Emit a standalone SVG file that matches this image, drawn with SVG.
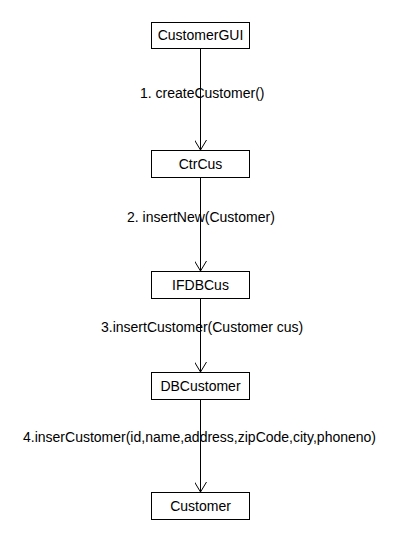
<svg xmlns="http://www.w3.org/2000/svg" width="410" height="540" viewBox="0 0 410 540">
<style>
.box{fill:#fff;stroke:#000;stroke-width:1}
.t{font-family:"Liberation Sans",Arial,sans-serif;font-size:14px;fill:#000}
.c{text-anchor:middle}
.ln{stroke:#000;stroke-width:1;fill:none}
</style>
<defs>
<marker id="open" markerWidth="16" markerHeight="12" refX="10" refY="6" orient="auto" markerUnits="userSpaceOnUse">
<path d="M0,0 L10,6 L0,12" fill="none" stroke="#000" stroke-width="1"/>
</marker>
</defs>
<rect width="410" height="540" fill="#fff"/>
<g id="connectors">
<line class="ln" x1="200.5" y1="48" x2="200.5" y2="150" marker-end="url(#open)"/>
<line class="ln" x1="200.5" y1="178" x2="200.5" y2="271" marker-end="url(#open)"/>
<line class="ln" x1="200.5" y1="299" x2="200.5" y2="372" marker-end="url(#open)"/>
<line class="ln" x1="200.5" y1="399" x2="200.5" y2="492" marker-end="url(#open)"/>
<text class="t" x="140" y="98">1. createCustomer()</text>
<text class="t" x="127" y="222">2. insertNew(Customer)</text>
<text class="t" x="101" y="332">3.insertCustomer(Customer cus)</text>
<text class="t" x="23" y="442">4.inserCustomer(id,name,address,zipCode,city,phoneno)</text>
</g>
<g id="CustomerGUI"><rect class="box" x="151.5" y="22.5" width="98" height="26"/><text class="t c" x="200.5" y="40">CustomerGUI</text></g>
<g id="CtrCus"><rect class="box" x="151.5" y="150.5" width="98" height="27"/><text class="t c" x="200.5" y="169">CtrCus</text></g>
<g id="IFDBCus"><rect class="box" x="151.5" y="271.5" width="98" height="27"/><text class="t c" x="200.5" y="290">IFDBCus</text></g>
<g id="DBCustomer"><rect class="box" x="151.5" y="372.5" width="98" height="27"/><text class="t c" x="200.5" y="391">DBCustomer</text></g>
<g id="Customer"><rect class="box" x="151.5" y="492.5" width="98" height="27"/><text class="t c" x="200.5" y="511">Customer</text></g>
</svg>
